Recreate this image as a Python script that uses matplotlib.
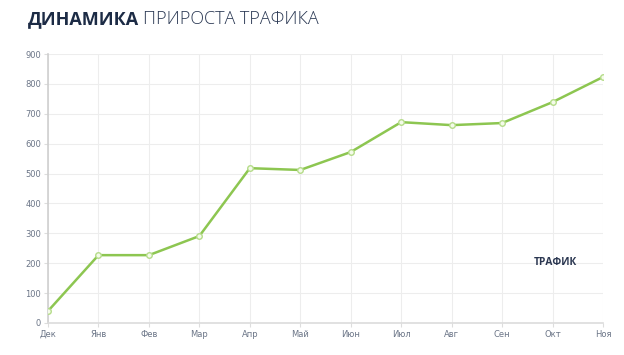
import numpy as np
import matplotlib.pyplot as plt

# Данные графика
months = ['Дек', 'Янв', 'Фев', 'Мар', 'Апр', 'Май', 'Июн', 'Июл', 'Авг', 'Сен', 'Окт', 'Ноя']
traffic = [40, 227, 227, 291, 518, 512, 572, 672, 662, 669, 739, 823]
y_ticks = [0, 100, 200, 300, 400, 500, 600, 700, 800, 900]

fig = plt.figure(figsize=(6.24, 3.55), dpi=100)
ax = fig.add_axes([48/624, 1 - 323/355, (603 - 48)/624, (323 - 54)/355])

x = np.arange(len(months))
ax.plot(x, traffic, color='#8dc651', lw=1.8, marker='o', ms=4,
        mfc='#f4fbe9', mec='#b5dc8a', mew=1, zorder=3)

ax.set_xlim(0, len(months) - 1)
ax.set_ylim(0, 900)
ax.set_xticks(x)
ax.set_xticklabels(months)
ax.set_yticks(y_ticks)
ax.grid(True, color='#ededed', lw=0.8)
ax.tick_params(axis='both', labelsize=6, colors='#6b7587', length=3, width=0.8)
ax.tick_params(axis='x', pad=2, color='#dddddd')
ax.tick_params(axis='y', pad=2, color='#dddddd')

for s in ['top', 'right']:
    ax.spines[s].set_visible(False)
ax.spines['left'].set_color('#cfcfcf')
ax.spines['bottom'].set_color('#dcdcdc')
ax.spines['left'].set_linewidth(1.2)
ax.spines['bottom'].set_linewidth(1.2)

# Заголовок
t1 = fig.text(28/624, 1 - 19/355, 'ДИНАМИКА', fontsize=13, fontweight='bold',
              family='Open Sans', color='#1c2b45', va='center', ha='left')
fig.canvas.draw()
bb = t1.get_window_extent()
fig.text((bb.x1 + 4)/624, 1 - 19/355, 'ПРИРОСТА ТРАФИКА', fontsize=13,
         fontweight='light', family='Open Sans', color='#2a3853',
         va='center', ha='left')

# Подпись серии
ax.text(0.876, 0.225, 'ТРАФИК', transform=ax.transAxes, fontsize=7.3,
        fontweight='bold', family='Open Sans', color='#2a3650',
        ha='left', va='center')

plt.savefig('out.png', dpi=100)
